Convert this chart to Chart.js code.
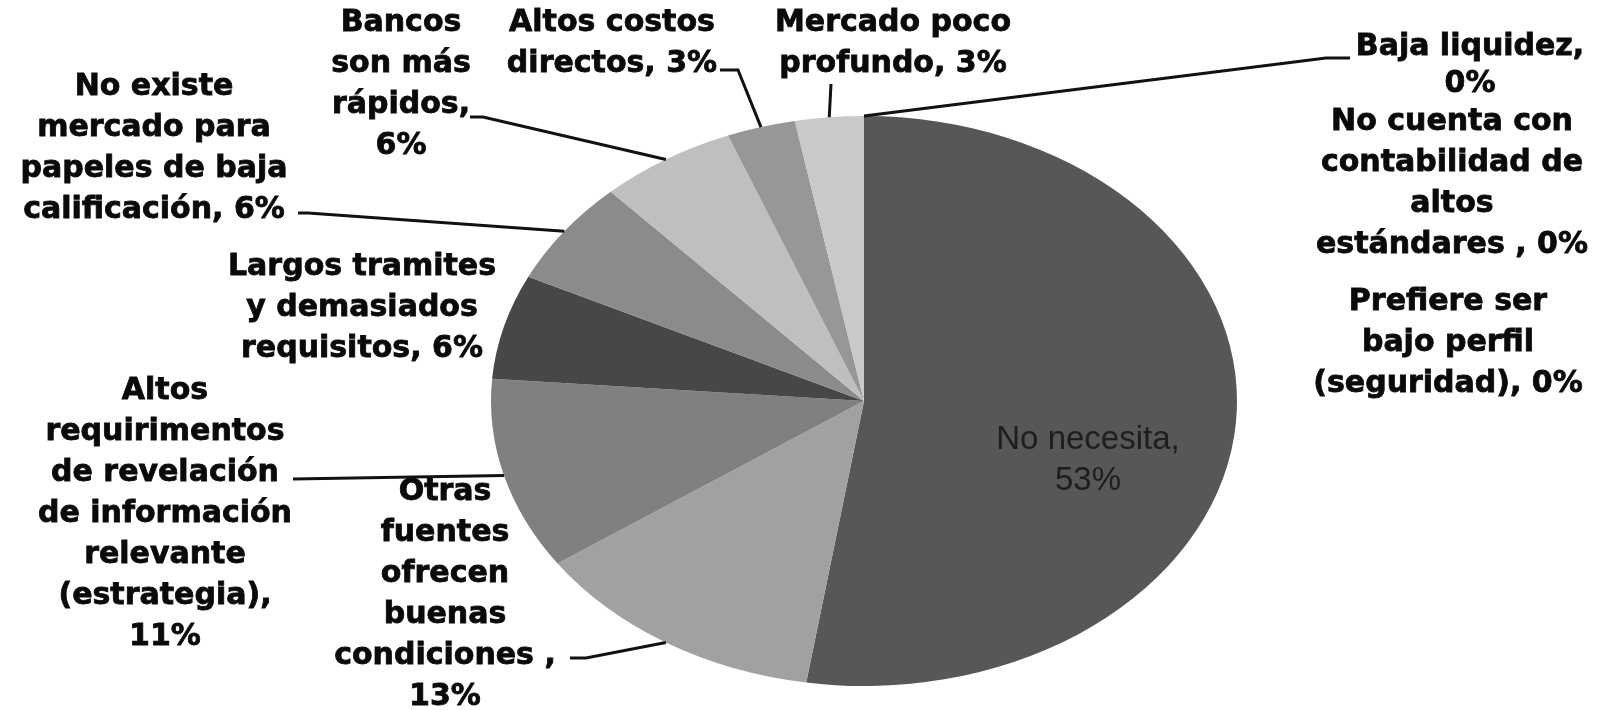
<!DOCTYPE html>
<html>
<head>
<meta charset="utf-8">
<script src="https://cdn.jsdelivr.net/npm/chart.js@4"></script>
<style>
  html, body { margin: 0; padding: 0; background: #fff; }
  #pie { display: block; }
</style>
</head>
<body>
<canvas id="pie" width="1612" height="710"></canvas>
<script>
// categories (line-broken the way the chart prints them)
var categories = [
  ['No necesita,'],
  ['Otras', 'fuentes', 'ofrecen', 'buenas', 'condiciones ,'],
  ['Altos', 'requirimentos', 'de revelación', 'de información', 'relevante', '(estrategia),'],
  ['Largos tramites', 'y demasiados', 'requisitos,'],
  ['No existe', 'mercado para', 'papeles de baja', 'calificación,'],
  ['Bancos', 'son más', 'rápidos,'],
  ['Altos costos', 'directos,'],
  ['Mercado poco', 'profundo,'],
  ['Baja liquidez,'],
  ['No cuenta con', 'contabilidad de', 'altos', 'estándares ,'],
  ['Prefiere ser', 'bajo perfil', '(seguridad),']
];
var percents = [53, 13, 11, 6, 6, 6, 3, 3, 0, 0, 0];
var greys = ['#575757', '#a1a1a1', '#808080', '#474747', '#8b8b8b', '#bfbfbf',
             '#979797', '#c9c9c9', '#666666', '#777777', '#888888'];

var stretchX = 373 / 285;   // the pie is drawn as an ellipse

// where each label sits: centre x, first line y, percent on own line, elbow points of the leader
var labelPos = [
  { x: 1088, y: 440, own: true, lead: null, inside: true },
  { x: 445, y: 492, own: true, lead: [[570, 658], [586, 658]] },
  { x: 165, y: 391, own: true, lead: [[293, 479]] },
  { x: 362, y: 267, own: false, lead: null },
  { x: 154, y: 87, own: false, lead: [[298, 213], [308, 213]] },
  { x: 401, y: 23, own: true, lead: [[470, 117], [483, 117]] },
  { x: 612, y: 23, own: false, lead: [[720, 70], [738, 70]] },
  { x: 893, y: 23, own: false, lead: [[831, 84]] },
  { x: 1470, y: 47, own: true, gap: 37, lead: [[1350, 58], [1326, 58]] },
  { x: 1452, y: 122, own: false, lead: null },
  { x: 1448, y: 302, own: false, lead: null }
];

var stretchPlugin = {
  id: 'stretch',
  beforeDatasetsDraw: function(chart) {
    var arc = chart.getDatasetMeta(0).data[0];
    var ctx = chart.ctx;
    ctx.save();
    ctx.translate(arc.x, 0);
    ctx.scale(stretchX, 1);
    ctx.translate(-arc.x, 0);
  },
  afterDatasetsDraw: function(chart) {
    chart.ctx.restore();
  }
};

var labelPlugin = {
  id: 'pieLabels',
  afterDraw: function(chart) {
    var ctx = chart.ctx;
    var arcs = chart.getDatasetMeta(0).data;
    ctx.save();
    arcs.forEach(function(arc, i) {
      var p = labelPos[i];
      var lines = categories[i].slice();
      var pct = percents[i] + '%';
      if (p.own) lines.push(pct);
      else lines[lines.length - 1] += ' ' + pct;

      // leader line to the middle of the slice edge
      if (p.lead) {
        var mid = (arc.startAngle + arc.endAngle) / 2;
        var ex = arc.x + Math.cos(mid) * arc.outerRadius * stretchX;
        var ey = arc.y + Math.sin(mid) * arc.outerRadius;
        ctx.beginPath();
        ctx.moveTo(p.lead[0][0], p.lead[0][1]);
        for (var k = 1; k < p.lead.length; k++) ctx.lineTo(p.lead[k][0], p.lead[k][1]);
        ctx.lineTo(ex, ey);
        ctx.strokeStyle = '#111';
        ctx.lineWidth = 3;
        ctx.stroke();
      }

      ctx.textAlign = 'center';
      ctx.textBaseline = 'middle';
      var gap = p.gap || 41;
      if (p.inside) {
        ctx.font = '33px "Liberation Sans", Arial, sans-serif';
        ctx.fillStyle = '#1e1e1e';
        lines.forEach(function(t, j) {
          ctx.fillText(t, p.x, p.y + j * gap);
        });
      } else {
        ctx.font = 'bold 30px "DejaVu Sans", sans-serif';
        ctx.fillStyle = '#0a0a0a';
        ctx.strokeStyle = '#0a0a0a';
        ctx.lineWidth = 0.8;
        lines.forEach(function(t, j) {
          ctx.fillText(t, p.x, p.y + j * gap);
          ctx.strokeText(t, p.x, p.y + j * gap);
        });
      }
    });
    ctx.restore();
  }
};

var ctx = document.getElementById('pie');
var pie = new Chart(ctx, {
  type: 'pie',
  data: {
    labels: categories,
    datasets: [{
      data: percents,
      backgroundColor: greys,
      borderWidth: 0
    }]
  },
  options: {
    responsive: false,
    animation: false,
    layout: { padding: { left: 579, right: 463, top: 116, bottom: 24 } },
    plugins: {
      legend: { display: false },
      tooltip: { enabled: false }
    }
  },
  plugins: [stretchPlugin, labelPlugin]
});
</script>
</body>
</html>
